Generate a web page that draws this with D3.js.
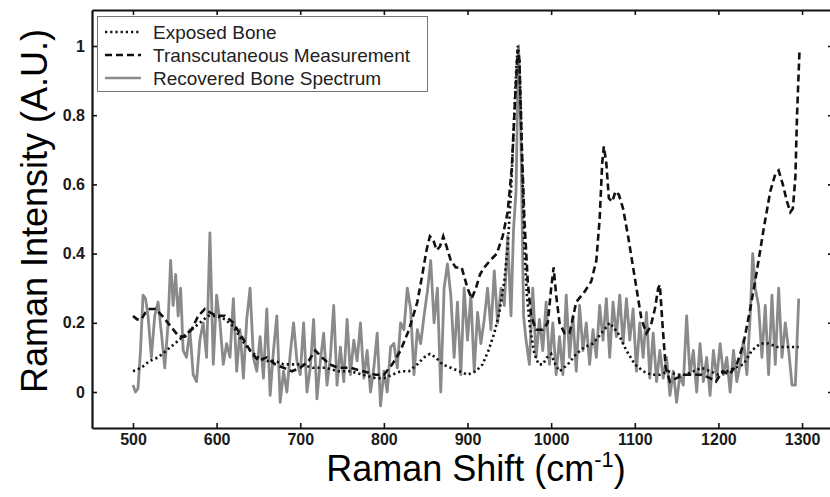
<!DOCTYPE html>
<html>
<head>
<meta charset="utf-8">
<script src="https://cdn.jsdelivr.net/npm/d3@7"></script>
<style>
  html, body { margin: 0; padding: 0; background: #fff; }
  svg { display: block; }
</style>
</head>
<body>
<svg id="chart" width="830" height="497"></svg>
<script>
// Raman shift (cm^-1) and normalized intensities for each spectrum
const exposedShift = [500, 510, 520, 530, 540, 550, 560, 570, 580, 590, 600, 610, 620, 630, 640, 650, 660, 670, 680, 690, 700, 715, 730, 745, 760, 775, 790, 800, 810, 820, 830, 840, 848, 855, 862, 870, 880, 890, 900, 910, 918, 925, 932, 938, 944, 948, 952, 955, 958, 960, 962, 964, 966, 968, 971, 975, 980, 985, 990, 995, 1000, 1005, 1010, 1015, 1020, 1030, 1040, 1050, 1060, 1070, 1080, 1090, 1100, 1110, 1120, 1130, 1140, 1150, 1160, 1170, 1180, 1190, 1200, 1210, 1220, 1230, 1240, 1250, 1260, 1270, 1280, 1290, 1296];
const exposedValue = [0.06, 0.07, 0.09, 0.10, 0.12, 0.14, 0.16, 0.18, 0.20, 0.22, 0.22, 0.21, 0.19, 0.15, 0.12, 0.10, 0.09, 0.09, 0.08, 0.08, 0.08, 0.07, 0.07, 0.06, 0.06, 0.05, 0.04, 0.04, 0.05, 0.06, 0.06, 0.08, 0.10, 0.11, 0.10, 0.08, 0.07, 0.06, 0.05, 0.06, 0.08, 0.12, 0.17, 0.23, 0.32, 0.42, 0.58, 0.75, 0.92, 1.00, 0.96, 0.80, 0.60, 0.42, 0.28, 0.18, 0.11, 0.08, 0.08, 0.10, 0.11, 0.08, 0.06, 0.07, 0.08, 0.11, 0.13, 0.14, 0.17, 0.20, 0.17, 0.12, 0.08, 0.06, 0.05, 0.05, 0.06, 0.05, 0.05, 0.06, 0.07, 0.06, 0.05, 0.06, 0.07, 0.08, 0.12, 0.14, 0.14, 0.13, 0.13, 0.13, 0.13];

const transShift = [500, 505, 510, 515, 520, 527, 535, 545, 555, 562, 570, 578, 586, 592, 600, 610, 620, 630, 640, 650, 660, 670, 680, 690, 700, 710, 718, 726, 735, 745, 760, 775, 790, 800, 810, 820, 830, 840, 846, 851, 855, 859, 863, 867, 871, 875, 880, 886, 893, 900, 905, 910, 915, 920, 927, 935, 942, 948, 953, 957, 960, 962, 965, 968, 972, 976, 982, 990, 996, 1000, 1003, 1006, 1010, 1016, 1022, 1030, 1040, 1048, 1054, 1058, 1061, 1063, 1066, 1069, 1073, 1077, 1081, 1086, 1092, 1100, 1108, 1114, 1119, 1124, 1128, 1130, 1133, 1137, 1142, 1150, 1160, 1170, 1180, 1190, 1197, 1205, 1213, 1222, 1230, 1238, 1246, 1254, 1262, 1268, 1272, 1277, 1282, 1286, 1289, 1292, 1294, 1297];
const transValue = [0.22, 0.21, 0.21, 0.23, 0.24, 0.24, 0.22, 0.19, 0.16, 0.16, 0.18, 0.22, 0.24, 0.23, 0.22, 0.22, 0.20, 0.16, 0.12, 0.09, 0.10, 0.08, 0.07, 0.06, 0.07, 0.09, 0.12, 0.10, 0.08, 0.07, 0.07, 0.06, 0.05, 0.05, 0.08, 0.12, 0.18, 0.26, 0.34, 0.41, 0.45, 0.44, 0.41, 0.42, 0.45, 0.42, 0.38, 0.36, 0.36, 0.30, 0.27, 0.30, 0.34, 0.36, 0.38, 0.40, 0.45, 0.52, 0.65, 0.85, 0.99, 0.96, 0.70, 0.50, 0.32, 0.22, 0.18, 0.18, 0.20, 0.30, 0.36, 0.28, 0.20, 0.17, 0.17, 0.26, 0.29, 0.32, 0.38, 0.50, 0.66, 0.71, 0.66, 0.56, 0.55, 0.58, 0.57, 0.53, 0.45, 0.33, 0.21, 0.17, 0.19, 0.24, 0.30, 0.31, 0.20, 0.07, 0.03, 0.04, 0.05, 0.05, 0.05, 0.04, 0.03, 0.06, 0.05, 0.08, 0.14, 0.24, 0.35, 0.47, 0.58, 0.63, 0.64, 0.60, 0.55, 0.52, 0.53, 0.62, 0.80, 0.99];

const recoveredShift = [500, 503, 506, 509, 512, 515, 518, 522, 526, 530, 534, 538, 542, 545, 548, 551, 554, 557, 560, 564, 568, 572, 576, 580, 584, 588, 592, 596, 600, 604, 608, 612, 616, 620, 624, 628, 632, 636, 640, 644, 648, 652, 656, 660, 664, 668, 672, 676, 680, 684, 688, 692, 696, 700, 704, 708, 712, 716, 720, 724, 728, 732, 736, 740, 744, 748, 752, 756, 760, 764, 768, 772, 776, 780, 784, 788, 792, 796, 800, 804, 808, 812, 816, 820, 824, 828, 832, 836, 840, 844, 848, 852, 856, 860, 864, 868, 872, 876, 880, 884, 888, 892, 896, 900, 904, 908, 912, 916, 920, 924, 928, 932, 936, 940, 944, 948, 952, 955, 958, 961, 964, 967, 970, 974, 978, 982, 986, 990, 994, 998, 1002, 1006, 1010, 1014, 1018, 1022, 1026, 1030, 1034, 1038, 1042, 1046, 1050, 1054, 1058, 1062, 1066, 1070, 1074, 1078, 1082, 1086, 1090, 1094, 1098, 1102, 1106, 1110, 1114, 1118, 1122, 1126, 1130, 1134, 1138, 1142, 1146, 1150, 1154, 1158, 1162, 1166, 1170, 1174, 1178, 1182, 1186, 1190, 1194, 1198, 1202, 1206, 1210, 1214, 1218, 1222, 1226, 1230, 1234, 1238, 1241, 1244, 1248, 1252, 1256, 1260, 1264, 1268, 1272, 1276, 1280, 1284, 1288, 1292, 1296];
const recoveredValue = [0.02, 0.00, 0.01, 0.12, 0.28, 0.27, 0.22, 0.10, 0.22, 0.26, 0.17, 0.07, 0.20, 0.38, 0.25, 0.34, 0.22, 0.30, 0.12, 0.10, 0.18, 0.05, 0.03, 0.15, 0.20, 0.10, 0.46, 0.08, 0.28, 0.20, 0.08, 0.14, 0.10, 0.27, 0.06, 0.18, 0.04, 0.21, 0.30, 0.10, 0.06, 0.16, 0.04, 0.24, -0.01, 0.12, 0.22, -0.03, 0.06, 0.00, 0.11, 0.20, 0.09, 0.05, 0.20, 0.00, 0.07, 0.21, -0.02, 0.09, 0.17, 0.02, 0.10, 0.25, 0.02, 0.13, 0.03, 0.21, 0.05, 0.15, 0.09, 0.20, 0.04, 0.12, 0.00, 0.07, 0.17, -0.04, 0.06, 0.00, 0.13, 0.14, 0.07, 0.20, 0.18, 0.30, 0.24, 0.05, 0.18, 0.14, 0.22, 0.29, 0.38, 0.20, 0.30, 0.00, 0.30, 0.37, 0.28, 0.10, 0.26, 0.05, 0.30, 0.15, 0.28, 0.06, 0.23, 0.14, 0.21, 0.30, 0.18, 0.35, 0.20, 0.30, 0.25, 0.45, 0.22, 0.47, 0.58, 1.00, 0.72, 0.22, 0.15, 0.08, 0.30, 0.10, 0.21, 0.12, 0.26, 0.08, 0.20, 0.05, 0.16, 0.05, 0.28, 0.10, 0.22, 0.06, 0.25, 0.12, 0.20, 0.08, 0.18, 0.10, 0.25, 0.15, 0.27, 0.10, 0.26, 0.16, 0.28, 0.14, 0.27, 0.15, 0.24, 0.06, 0.20, 0.10, 0.23, 0.04, 0.17, 0.03, 0.12, 0.04, 0.10, -0.01, 0.06, -0.03, 0.05, 0.02, 0.22, 0.05, 0.12, 0.00, 0.14, 0.03, 0.10, -0.01, 0.12, 0.04, 0.14, 0.05, 0.10, 0.00, 0.12, 0.03, 0.08, 0.15, 0.05, 0.22, 0.40, 0.30, 0.25, 0.10, 0.25, 0.05, 0.28, 0.08, 0.30, 0.10, 0.20, 0.12, 0.02, 0.02, 0.27];

const xTicks = [500, 600, 700, 800, 900, 1000, 1100, 1200, 1300];
const yTicks = [0, 0.2, 0.4, 0.6, 0.8, 1];
const yTickLabels = ["0", "0.2", "0.4", "0.6", "0.8", "1"];

const legendLabels = ["Exposed Bone", "Transcutaneous Measurement", "Recovered Bone Spectrum"];

const FONT = "Liberation Sans, Arial, sans-serif";
const svg = d3.select("#chart");
const margin = { left: 92, top: 10, right: -3, bottom: 69 };
const W = 830, H = 497;

const x = d3.scaleLinear().domain([451, 1337]).range([margin.left, W - margin.right]);
const y = d3.scaleLinear().domain([-0.104, 1.104]).range([H - margin.bottom, margin.top]);

const plot = svg.append("g");

// Spectra
const line = d3.line().x(d => x(d[0])).y(d => y(d[1]));
const zip = (a, b) => a.map((v, i) => [v, b[i]]);

plot.append("path")
  .datum(zip(recoveredShift, recoveredValue))
  .attr("d", line)
  .attr("fill", "none")
  .attr("stroke", "#8a8a8a")
  .attr("stroke-width", 2.8)
  .attr("stroke-linejoin", "round");

plot.append("path")
  .datum(zip(transShift, transValue))
  .attr("d", line)
  .attr("fill", "none")
  .attr("stroke", "#111")
  .attr("stroke-width", 2.6)
  .attr("stroke-dasharray", "7,4");

plot.append("path")
  .datum(zip(exposedShift, exposedValue))
  .attr("d", line)
  .attr("fill", "none")
  .attr("stroke", "#111")
  .attr("stroke-width", 2.6)
  .attr("stroke-dasharray", "2.2,3");

// Axes: ticks point inward on all four sides
const axisStyle = g => {
  g.select(".domain").attr("stroke", "#111").attr("stroke-width", 2.2);
  g.selectAll(".tick line").attr("stroke", "#111").attr("stroke-width", 1.6);
  g.selectAll(".tick text")
    .attr("fill", "#1a1a1a")
    .style("font-family", FONT)
    .style("font-size", "16px")
    .style("font-weight", "bold");
};

svg.append("g")
  .attr("transform", `translate(0,${y.range()[0]})`)
  .call(d3.axisBottom(x).tickValues(xTicks).tickSizeInner(-5).tickSizeOuter(0).tickPadding(6)
    .tickFormat(d3.format("d")))
  .call(axisStyle);

svg.append("g")
  .attr("transform", `translate(0,${y.range()[1]})`)
  .call(d3.axisTop(x).tickValues(xTicks).tickSizeInner(-5).tickSizeOuter(0).tickFormat(""))
  .call(axisStyle);

svg.append("g")
  .attr("transform", `translate(${x.range()[0]},0)`)
  .call(d3.axisLeft(y).tickValues(yTicks).tickSizeInner(-5).tickSizeOuter(0).tickPadding(7)
    .tickFormat((d, i) => yTickLabels[i]))
  .call(axisStyle);

svg.append("g")
  .attr("transform", `translate(${x.range()[1]},0)`)
  .call(d3.axisRight(y).tickValues(yTicks).tickSizeInner(-5).tickSizeOuter(0).tickFormat(""))
  .call(axisStyle);

// Axis titles
svg.append("text")
  .attr("x", 476).attr("y", 481)
  .attr("text-anchor", "middle")
  .attr("font-family", FONT)
  .attr("font-size", 36)
  .attr("fill", "#000")
  .call(t => {
    t.append("tspan").text("Raman Shift (cm");
    t.append("tspan").attr("dy", -14).attr("font-size", 22).text("-1");
    t.append("tspan").attr("dy", 14).text(")");
  });

svg.append("text")
  .attr("transform", "translate(47,211) rotate(-90)")
  .attr("text-anchor", "middle")
  .attr("font-family", FONT)
  .attr("font-size", 36)
  .attr("fill", "#000")
  .text("Raman Intensity (A.U.)");

// Legend
const lg = svg.append("g");
lg.append("rect")
  .attr("x", 97.5).attr("y", 16.5).attr("width", 330).attr("height", 75)
  .attr("fill", "#fff").attr("stroke", "#777").attr("stroke-width", 1);

const legendStyles = [
  { stroke: "#111", dash: "2.2,3" },
  { stroke: "#111", dash: "7,4" },
  { stroke: "#8a8a8a", dash: null }
];
legendLabels.forEach((label, i) => {
  const ly = 32 + i * 23;
  lg.append("line")
    .attr("x1", 105).attr("x2", 141).attr("y1", ly).attr("y2", ly)
    .attr("stroke", legendStyles[i].stroke)
    .attr("stroke-width", 2.6)
    .attr("stroke-dasharray", legendStyles[i].dash);
  lg.append("text")
    .attr("x", 153).attr("y", ly + 6.5)
    .attr("font-family", FONT)
    .attr("font-size", 19)
    .attr("fill", "#222")
    .text(label);
});
</script>
</body>
</html>
